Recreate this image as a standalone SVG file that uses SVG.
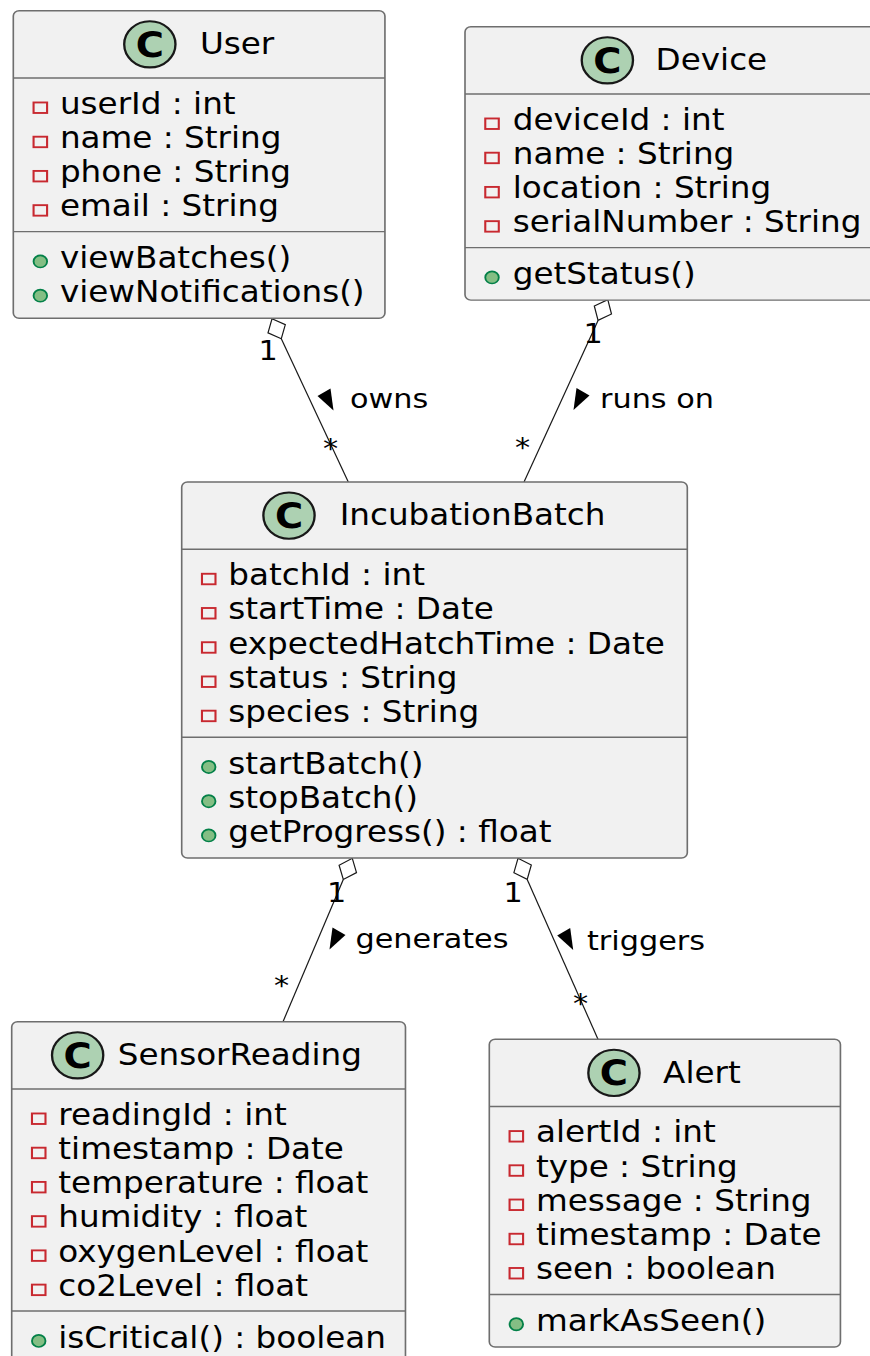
<svg xmlns="http://www.w3.org/2000/svg" width="870" height="1356" viewBox="0 0 870 1356">
<style>
.box{fill:#F1F1F1;stroke:#6E6E6E;stroke-width:0.7}
.sep{stroke:#6E6E6E;stroke-width:0.7;fill:none}
.ci{fill:#ADD1B2;stroke:#181818;stroke-width:1}
.cl{font-family:'DejaVu Sans','Liberation Sans',sans-serif;font-size:16.5px;font-weight:bold;text-anchor:middle;fill:#000}
.t{font-family:'DejaVu Sans','Liberation Sans',sans-serif;font-size:14px;fill:#000}
.pv{fill:none;stroke:#C82930;stroke-width:0.9}
.pb{fill:#84BE84;stroke:#038048;stroke-width:0.8}
.ln{stroke:#181818;stroke-width:1.2;fill:none}
.dia{fill:#FFFFFF;stroke:#181818;stroke-width:1.2}
.tri{fill:#000}
.lb{font-family:'DejaVu Sans','Liberation Sans',sans-serif;font-size:13px;fill:#000}
</style>
<rect width="870" height="1356" fill="#FFFFFF"/>

<g id="connectors">
  <line class="ln" x1="281.3" y1="338.7" x2="348.3" y2="482"/>
  <polygon class="dia" points="272,318.8 285.3,324.7 281.3,338.7 268,332.8"/>
  <polygon class="tri" points="317.5,396 330.5,388.5 333.5,410.5"/>
  <text class="lb" transform="translate(258.5,360) scale(2.33,2.1)">1</text>
  <text class="lb" transform="translate(323,458) scale(2.33,2.1)">*</text>
  <text class="lb" transform="translate(350,408.3) scale(2.33,2.1)">owns</text>

  <line class="ln" x1="598.05" y1="320.4" x2="524" y2="482"/>
  <polygon class="dia" points="607.8,299.6 611.5,314 598.05,320.4 594.3,306"/>
  <polygon class="tri" points="589.5,395.5 576.5,388 573.5,410"/>
  <text class="lb" transform="translate(583.5,343) scale(2.33,2.1)">1</text>
  <text class="lb" transform="translate(515,457) scale(2.33,2.1)">*</text>
  <text class="lb" transform="translate(600,408) scale(2.33,2.1)">runs on</text>

  <line class="ln" x1="343.3" y1="879.5" x2="283" y2="1021.7"/>
  <polygon class="dia" points="352.3,858.3 356.5,872.6 343.3,879.5 339.1,865.2"/>
  <polygon class="tri" points="345.5,935 332.5,927.5 329.5,949.5"/>
  <text class="lb" transform="translate(327,901.7) scale(2.33,2.1)">1</text>
  <text class="lb" transform="translate(274,995) scale(2.33,2.1)">*</text>
  <text class="lb" transform="translate(355.5,947.5) scale(2.33,2.1)">generates</text>

  <line class="ln" x1="527.2" y1="879.4" x2="598" y2="1039.3"/>
  <polygon class="dia" points="518,858.3 531.3,865 527.2,879.4 513.9,872.7"/>
  <polygon class="tri" points="557.2,935.5 570.2,928 573.2,950"/>
  <text class="lb" transform="translate(503.5,901.7) scale(2.33,2.1)">1</text>
  <text class="lb" transform="translate(573,1013) scale(2.33,2.1)">*</text>
  <text class="lb" transform="translate(587,949.5) scale(2.33,2.1)">triggers</text>
</g>

<g id="User" transform="translate(13.3,10.7) scale(2.33,2.1)">
  <rect class="box" x="0" y="0" width="159.5" height="146.5" rx="2.5"/>
  <line class="sep" x1="0" y1="32" x2="159.5" y2="32"/>
  <line class="sep" x1="0" y1="105.2" x2="159.5" y2="105.2"/>
  <circle class="ci" cx="58.6" cy="16" r="11"/>
  <text class="cl" x="58.6" y="21.9">C</text>
  <text class="t" x="80.1" y="20.7">User</text>
  <rect class="pv" x="8.7" y="43.7" width="5.8" height="5"/>
  <text class="t" x="20" y="49.1">userId : int</text>
  <rect class="pv" x="8.7" y="60" width="5.8" height="5"/>
  <text class="t" x="20" y="65.4">name : String</text>
  <rect class="pv" x="8.7" y="76.3" width="5.8" height="5"/>
  <text class="t" x="20" y="81.7">phone : String</text>
  <rect class="pv" x="8.7" y="92.6" width="5.8" height="5"/>
  <text class="t" x="20" y="98">email : String</text>
  <circle class="pb" cx="11.6" cy="119.4" r="2.9"/>
  <text class="t" x="20" y="122.6">viewBatches()</text>
  <circle class="pb" cx="11.6" cy="135.7" r="2.9"/>
  <text class="t" x="20" y="138.9">viewNotifications()</text>
</g>

<g id="Device" transform="translate(465,26.7) scale(2.33,2.1)">
  <rect class="box" x="0" y="0" width="178.4" height="130.2" rx="2.5"/>
  <line class="sep" x1="0" y1="32" x2="178.4" y2="32"/>
  <line class="sep" x1="0" y1="105.2" x2="178.4" y2="105.2"/>
  <circle class="ci" cx="61.1" cy="16" r="11"/>
  <text class="cl" x="61.1" y="21.9">C</text>
  <text class="t" x="81.8" y="20.7">Device</text>
  <rect class="pv" x="8.7" y="43.7" width="5.8" height="5"/>
  <text class="t" x="20.5" y="49.1">deviceId : int</text>
  <rect class="pv" x="8.7" y="60" width="5.8" height="5"/>
  <text class="t" x="20.5" y="65.4">name : String</text>
  <rect class="pv" x="8.7" y="76.3" width="5.8" height="5"/>
  <text class="t" x="20.5" y="81.7">location : String</text>
  <rect class="pv" x="8.7" y="92.6" width="5.8" height="5"/>
  <text class="t" x="20.5" y="98">serialNumber : String</text>
  <circle class="pb" cx="11.6" cy="119.4" r="2.9"/>
  <text class="t" x="20.5" y="122.6">getStatus()</text>
</g>

<g id="IncubationBatch" transform="translate(181.7,482) scale(2.33,2.1)">
  <rect class="box" x="0" y="0" width="217" height="179.1" rx="2.5"/>
  <line class="sep" x1="0" y1="32" x2="217" y2="32"/>
  <line class="sep" x1="0" y1="121.5" x2="217" y2="121.5"/>
  <circle class="ci" cx="46.05" cy="16" r="11"/>
  <text class="cl" x="46.05" y="21.9">C</text>
  <text class="t" x="67.8" y="20.7">IncubationBatch</text>
  <rect class="pv" x="8.7" y="43.7" width="5.8" height="5"/>
  <text class="t" x="20" y="49.1">batchId : int</text>
  <rect class="pv" x="8.7" y="60" width="5.8" height="5"/>
  <text class="t" x="20" y="65.4">startTime : Date</text>
  <rect class="pv" x="8.7" y="76.3" width="5.8" height="5"/>
  <text class="t" x="20" y="81.7">expectedHatchTime : Date</text>
  <rect class="pv" x="8.7" y="92.6" width="5.8" height="5"/>
  <text class="t" x="20" y="98">status : String</text>
  <rect class="pv" x="8.7" y="108.9" width="5.8" height="5"/>
  <text class="t" x="20" y="114.3">species : String</text>
  <circle class="pb" cx="11.6" cy="135.7" r="2.9"/>
  <text class="t" x="20" y="138.9">startBatch()</text>
  <circle class="pb" cx="11.6" cy="152" r="2.9"/>
  <text class="t" x="20" y="155.2">stopBatch()</text>
  <circle class="pb" cx="11.6" cy="168.3" r="2.9"/>
  <text class="t" x="20" y="171.5">getProgress() : float</text>
</g>

<g id="SensorReading" transform="translate(11.7,1021.7) scale(2.33,2.1)">
  <rect class="box" x="0" y="0" width="169" height="162.8" rx="2.5"/>
  <line class="sep" x1="0" y1="32" x2="169" y2="32"/>
  <line class="sep" x1="0" y1="137.8" x2="169" y2="137.8"/>
  <circle class="ci" cx="28.3" cy="16" r="11"/>
  <text class="cl" x="28.3" y="21.9">C</text>
  <text class="t" x="45.5" y="20.7">SensorReading</text>
  <rect class="pv" x="8.7" y="43.7" width="5.8" height="5"/>
  <text class="t" x="20" y="49.1">readingId : int</text>
  <rect class="pv" x="8.7" y="60" width="5.8" height="5"/>
  <text class="t" x="20" y="65.4">timestamp : Date</text>
  <rect class="pv" x="8.7" y="76.3" width="5.8" height="5"/>
  <text class="t" x="20" y="81.7">temperature : float</text>
  <rect class="pv" x="8.7" y="92.6" width="5.8" height="5"/>
  <text class="t" x="20" y="98">humidity : float</text>
  <rect class="pv" x="8.7" y="108.9" width="5.8" height="5"/>
  <text class="t" x="20" y="114.3">oxygenLevel : float</text>
  <rect class="pv" x="8.7" y="125.2" width="5.8" height="5"/>
  <text class="t" x="20" y="130.6">co2Level : float</text>
  <circle class="pb" cx="11.6" cy="152" r="2.9"/>
  <text class="t" x="20" y="155.2">isCritical() : boolean</text>
</g>

<g id="Alert" transform="translate(489.3,1039.3) scale(2.33,2.1)">
  <rect class="box" x="0" y="0" width="150.7" height="146.5" rx="2.5"/>
  <line class="sep" x1="0" y1="32" x2="150.7" y2="32"/>
  <line class="sep" x1="0" y1="121.5" x2="150.7" y2="121.5"/>
  <circle class="ci" cx="53.5" cy="16" r="11"/>
  <text class="cl" x="53.5" y="21.9">C</text>
  <text class="t" x="74.6" y="20.7">Alert</text>
  <rect class="pv" x="8.7" y="43.7" width="5.8" height="5"/>
  <text class="t" x="20" y="49.1">alertId : int</text>
  <rect class="pv" x="8.7" y="60" width="5.8" height="5"/>
  <text class="t" x="20" y="65.4">type : String</text>
  <rect class="pv" x="8.7" y="76.3" width="5.8" height="5"/>
  <text class="t" x="20" y="81.7">message : String</text>
  <rect class="pv" x="8.7" y="92.6" width="5.8" height="5"/>
  <text class="t" x="20" y="98">timestamp : Date</text>
  <rect class="pv" x="8.7" y="108.9" width="5.8" height="5"/>
  <text class="t" x="20" y="114.3">seen : boolean</text>
  <circle class="pb" cx="11.6" cy="135.7" r="2.9"/>
  <text class="t" x="20" y="138.9">markAsSeen()</text>
</g>
</svg>
